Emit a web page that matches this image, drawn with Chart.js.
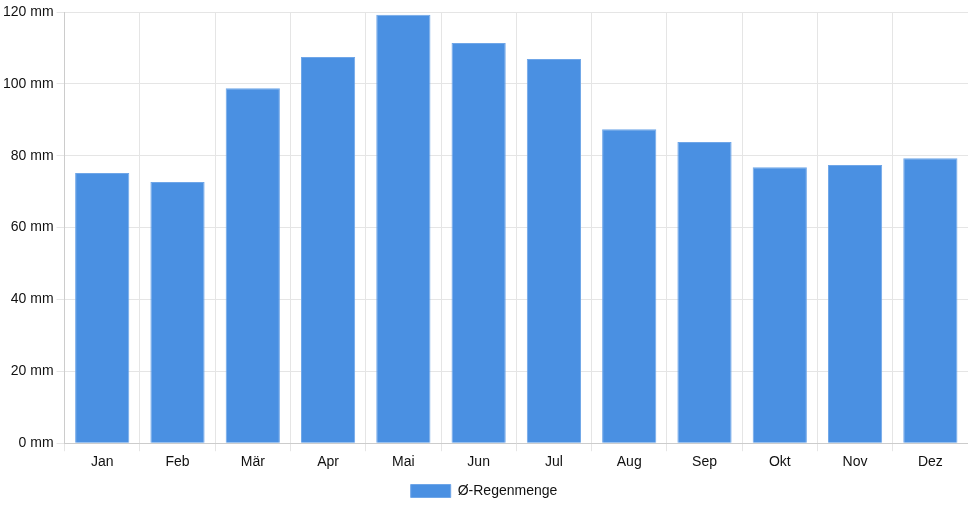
<!DOCTYPE html>
<html><head><meta charset="utf-8">
<script src="https://cdn.jsdelivr.net/npm/chart.js@4/dist/chart.umd.min.js"></script>
<style>html,body{margin:0;padding:0;background:#fff}#wrap{width:968px;height:508px}</style>
</head><body><div id="wrap"><canvas id="c"></canvas></div>
<script>
const categories = ["Jan","Feb","Mär","Apr","Mai","Jun","Jul","Aug","Sep","Okt","Nov","Dez"];
const rain = [75.2, 72.7, 98.8, 107.5, 119.2, 111.4, 106.9, 87.4, 83.8, 76.8, 77.4, 79.3];
const seriesLabel = "Ø-Regenmenge";
Chart.defaults.font.family = "'Liberation Sans', Arial, sans-serif";
Chart.defaults.font.size = 14;
Chart.defaults.color = "#111";
new Chart(document.getElementById('c'), {
  type: 'bar',
  data: { labels: categories, datasets: [{ label: seriesLabel, data: rain, backgroundColor: '#4a90e2', borderColor: '#6fa6e8', borderWidth: 1 }] },
  options: {
    responsive: true, maintainAspectRatio: false, animation: false,
    layout: { padding: { top: 12, right: 0, left: 0, bottom: 0 } },
    plugins: { legend: { position: 'bottom', labels: { boxWidth: 40, boxHeight: 13 } }, tooltip: { enabled: false } },
    scales: {
      x: { grid: { color: '#e5e5e5', offset: true, tickLength: 8 }, border: { color: '#ccc' } },
      y: { min: 0, max: 120, ticks: { stepSize: 20, callback: v => v + ' mm' }, grid: { color: '#e5e5e5', tickLength: 8 }, border: { color: '#ccc' } }
    }
  }
});
</script></body></html>
